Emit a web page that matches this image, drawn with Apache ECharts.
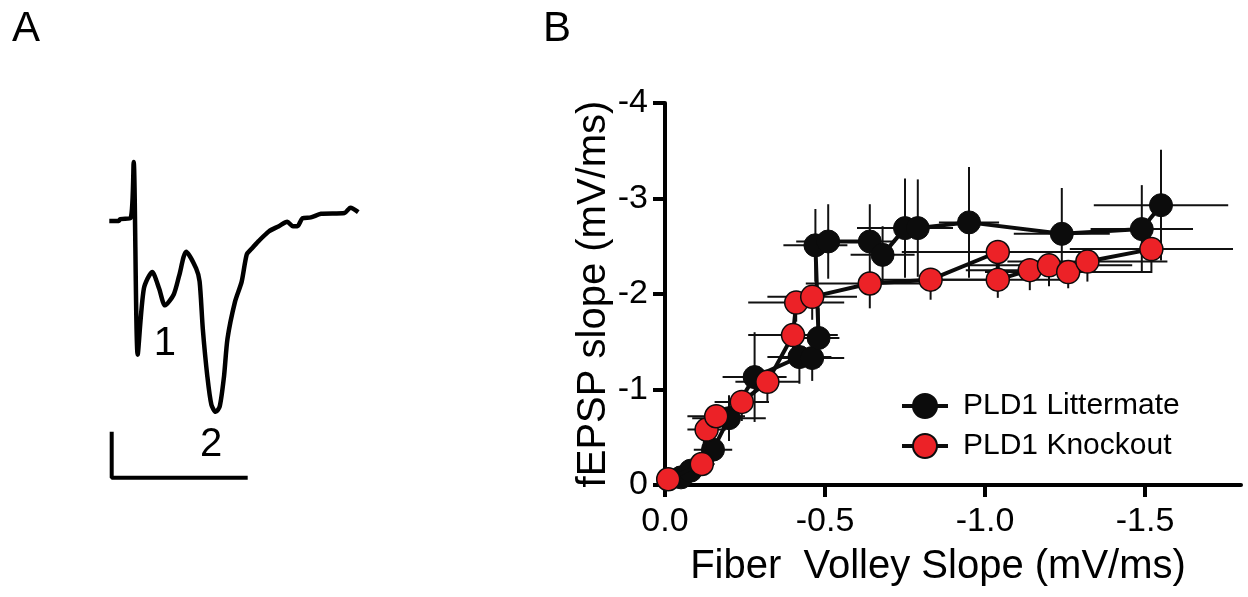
<!DOCTYPE html>
<html><head><meta charset="utf-8">
<script src="https://cdn.jsdelivr.net/npm/echarts@6/dist/echarts.min.js"></script>
<style>html,body{margin:0;padding:0;background:#fff}#c{width:1248px;height:597px}</style>
</head><body><div id="c"></div>
<script>
// ---------- Panel A: example field potential trace (time ms, amplitude mV) ----------
const traceT = [0.16,0.51,0.57,0.95,1.07,1.22,1.45,1.76,2.02,2.24,2.56,2.77,3.03,3.40,3.53,3.65,3.82,3.97,4.13,4.28,4.44,4.57,4.85,5.10,5.29,5.46,5.73,6.11,6.49,6.80,7.01,7.18,7.37,7.68,8.06,8.94,9.16,9.45];
const traceV = [-0.01,-0.01,0.01,0.02,0.66,-1.53,-0.78,-0.59,-0.78,-0.97,-0.85,-0.63,-0.36,-0.55,-0.70,-1.24,-1.78,-2.10,-2.18,-2.12,-1.78,-1.35,-0.93,-0.70,-0.39,-0.33,-0.24,-0.13,-0.07,-0.02,-0.07,-0.07,0.02,0.03,0.07,0.08,0.14,0.09];
const scaleBarT = [0.25, 0.25, 5.25];
const scaleBarV = [-2.43, -2.93, -2.93];
const peakLabels = ['1', '2'];
const peakLabelT = [2.23, 3.96];
const peakLabelV = [-1.41, -2.56];
const panelLabels = ['A', 'B'];

// ---------- Panel B: input-output curves ----------
const xTickLabels = ['0.0', '-0.5', '-1.0', '-1.5'];
const yTickLabels = ['0', '-1', '-2', '-3', '-4'];
const seriesNames = ['PLD1 Littermate', 'PLD1 Knockout'];
const xAxisName = 'Fiber  Volley Slope (mV/ms)';
const yAxisName = 'fEPSP slope (mV/ms)';

// Littermate (values as displayed, negative)
const litFV   = [-0.05,-0.08,-0.15,-0.20,-0.28,-0.42,-0.46,-0.48,-0.47,-0.51,-0.64,-0.68,-0.75,-0.79,-0.95,-1.24,-1.49,-1.55];
const litEPSP = [-0.08,-0.15,-0.37,-0.70,-1.13,-1.34,-1.33,-1.54,-2.51,-2.55,-2.55,-2.41,-2.69,-2.69,-2.75,-2.63,-2.68,-2.93];
const litFVErr   = [0.03,0.04,0.06,0.115,0.10,0.10,0.10,0.065,0.10,0.10,0.08,0.10,0.15,0.10,0.094,0.15,0.16,0.21];
const litEPSPErr = [0.06,0.10,0.17,0.24,0.47,0.28,0.24,0.31,0.38,0.39,0.39,0.30,0.52,0.51,0.58,0.48,0.46,0.58];

// Knockout
const koFV   = [-0.01,-0.115,-0.13,-0.16,-0.24,-0.32,-0.40,-0.41,-0.46,-0.64,-0.83,-1.04,-1.04,-1.14,-1.20,-1.26,-1.32,-1.52];
const koEPSP = [-0.06,-0.22,-0.58,-0.72,-0.87,-1.08,-1.57,-1.91,-1.97,-2.11,-2.15,-2.44,-2.15,-2.25,-2.30,-2.23,-2.34,-2.47];
const koFVErr   = [0.02,0.04,0.06,0.09,0.085,0.10,0.14,0.15,0.14,0.20,0.20,0.30,0.20,0.20,0.26,0.26,0.25,0.255];
const koEPSPErrDown = [0.03,0.10,0.15,0.15,0.20,0.20,0.30,0.20,0.24,0.26,0.21,0.15,0.19,0.21,0.22,0.17,0.21,0.25];

const FONT = '"Liberation Sans", Arial, sans-serif';
const RED = '#ec2227', BLACK = '#0c0c0c';

// plot magnitudes on axes whose labels carry the minus sign
const litPts = litFV.map((v, i) => [-v, -litEPSP[i]]);
const koPts = koFV.map((v, i) => [-v, -koEPSP[i]]);
const litErr = litFV.map((v, i) => [-v, -litEPSP[i], litFVErr[i], litEPSPErr[i], litEPSPErr[i]]);
const koErr = koFV.map((v, i) => [-v, -koEPSP[i], koFVErr[i], koEPSPErrDown[i], 0]);

function errRender(params, api) {
  const x = api.value(0), y = api.value(1), ex = api.value(2), eLo = api.value(3), eHi = api.value(4);
  const pL = api.coord([x - ex, y]), pR = api.coord([x + ex, y]);
  const pB = api.coord([x, y - eLo]), pT = api.coord([x, y + eHi]);
  const style = { stroke: '#111', lineWidth: 2 };
  return { type: 'group', children: [
    { type: 'line', shape: { x1: pL[0], y1: pL[1], x2: pR[0], y2: pR[1] }, style },
    { type: 'line', shape: { x1: pB[0], y1: pB[1], x2: pT[0], y2: pT[1] }, style }
  ]};
}

const xTickVals = xTickLabels.map(s => Math.abs(parseFloat(s)));
const chart = echarts.init(document.getElementById('c'));
chart.setOption({
  animation: false,
  backgroundColor: '#fff',
  textStyle: { fontFamily: FONT },
  graphic: [
    { type: 'text', x: 12, y: 29, style: { text: panelLabels[0], font: '42px ' + FONT, fill: '#000', textVerticalAlign: 'middle' } },
    { type: 'text', x: 543, y: 29, style: { text: panelLabels[1], font: '42px ' + FONT, fill: '#000', textVerticalAlign: 'middle' } }
  ],
  legend: {
    data: seriesNames,
    orient: 'vertical',
    left: 895, top: 386,
    itemWidth: 46, itemHeight: 30, itemGap: 10,
    lineStyle: { width: 4 },
    textStyle: { fontSize: 30, color: '#000', fontFamily: FONT, padding: [0, 0, 0, 10] }
  },
  grid: [
    { left: 665, top: 103, width: 576, height: 382, containLabel: false },
    { left: 105, top: 132, width: 268, height: 352, containLabel: false }
  ],
  xAxis: [
    {
      gridIndex: 0, type: 'value', min: 0, max: 1.8, interval: 0.5,
      name: xAxisName, nameLocation: 'middle', nameGap: 62,
      nameTextStyle: { fontSize: 40, color: '#000', fontFamily: FONT, padding: [0, 30, 0, 0] },
      axisLine: { lineStyle: { color: '#000', width: 4 } },
      axisTick: { show: true, length: 12, lineStyle: { color: '#000', width: 4 }, customValues: xTickVals },
      axisLabel: { fontSize: 34, color: '#000', margin: 20, customValues: xTickVals,
        formatter: v => xTickLabels[xTickVals.indexOf(v)] ?? '' },
      splitLine: { show: false }
    },
    { gridIndex: 1, type: 'value', min: 0, max: 10, show: false }
  ],
  yAxis: [
    {
      gridIndex: 0, type: 'value', min: 0, max: 4, interval: 1,
      name: yAxisName, nameLocation: 'middle', nameGap: 48, nameRotate: 90,
      nameTextStyle: { fontSize: 40, color: '#000', fontFamily: FONT },
      axisLine: { lineStyle: { color: '#000', width: 4 } },
      axisTick: { show: true, length: 12, lineStyle: { color: '#000', width: 4 } },
      axisLabel: { fontSize: 34, color: '#000', margin: 17,
        formatter: v => yTickLabels[Math.round(v)] },
      splitLine: { show: false }
    },
    { gridIndex: 1, type: 'value', min: -3, max: 1, show: false }
  ],
  series: [
    { type: 'custom', name: 'litErr', xAxisIndex: 0, yAxisIndex: 0, data: litErr, renderItem: errRender, clip: false, z: 1 },
    { type: 'custom', name: 'koErr', xAxisIndex: 0, yAxisIndex: 0, data: koErr, renderItem: errRender, clip: false, z: 1 },
    {
      type: 'line', name: seriesNames[0], xAxisIndex: 0, yAxisIndex: 0, data: litPts, z: 3,
      symbol: 'circle', symbolSize: 23, showAllSymbol: true,
      lineStyle: { color: BLACK, width: 4 },
      itemStyle: { color: BLACK, borderColor: BLACK, borderWidth: 1 }
    },
    {
      type: 'line', name: seriesNames[1], xAxisIndex: 0, yAxisIndex: 0, data: koPts, z: 4,
      symbol: 'circle', symbolSize: 23, showAllSymbol: true,
      lineStyle: { color: BLACK, width: 4 },
      itemStyle: { color: RED, borderColor: BLACK, borderWidth: 1.5 }
    },
    {
      type: 'line', name: 'trace', xAxisIndex: 1, yAxisIndex: 1,
      data: traceT.map((t, i) => [t, traceV[i]]), symbol: 'none', smooth: 0.25,
      lineStyle: { color: '#000', width: 4.5 }
    },
    {
      type: 'line', name: 'scalebar', xAxisIndex: 1, yAxisIndex: 1,
      data: scaleBarT.map((t, i) => [t, scaleBarV[i]]), symbol: 'none',
      lineStyle: { color: '#000', width: 4, cap: 'square' }
    },
    {
      type: 'scatter', name: 'peaks', xAxisIndex: 1, yAxisIndex: 1,
      data: peakLabelT.map((t, i) => ({ value: [t, peakLabelV[i]], name: peakLabels[i] })),
      symbolSize: 0, itemStyle: { opacity: 1 },
      label: { show: true, position: 'inside', formatter: p => p.name, fontSize: 40, color: '#000', fontFamily: FONT }
    }
  ]
});
</script>
</body></html>
